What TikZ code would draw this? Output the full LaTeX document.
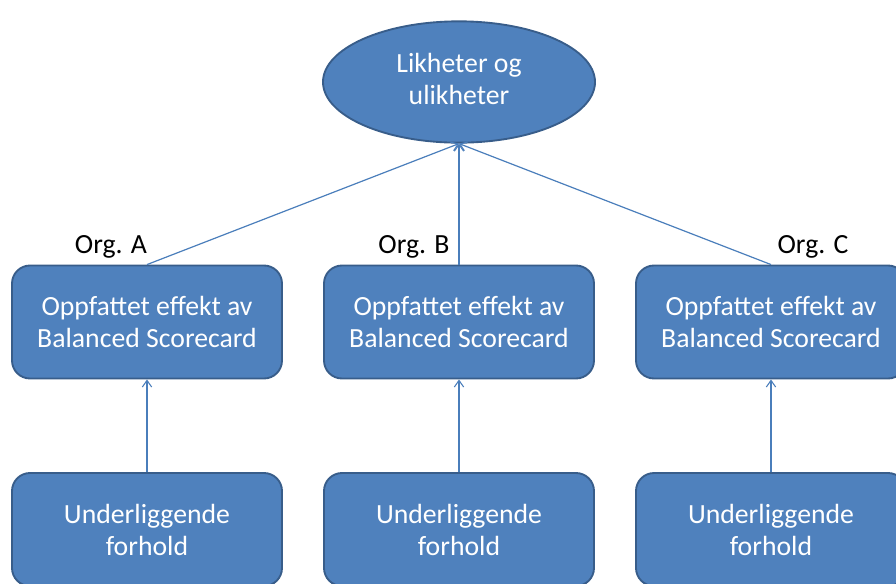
\documentclass[tikz,border=0pt]{standalone}
\usepackage{fontspec}
\setmainfont{Carlito}
\usetikzlibrary{shapes.geometric,arrows.meta}
\definecolor{boxfill}{HTML}{4F81BD}
\definecolor{boxline}{HTML}{385D8A}
\definecolor{linkline}{HTML}{4A7EBB}
\tikzset{
  px/.style={x=0.75pt,y=-0.75pt},
  bigtext/.style={font=\fontsize{20.8pt}{24pt}\selectfont},
  card/.style={draw=boxline,fill=boxfill,line width=1.4pt,rounded corners=13.5pt,
    minimum width=202.5pt,minimum height=84.75pt,align=center,text=white,
    bigtext,inner sep=0pt},
  hub/.style={ellipse,draw=boxline,fill=boxfill,line width=1.4pt,
    minimum width=204pt,minimum height=91pt},
  orglabel/.style={anchor=base,text=black,bigtext,inner sep=0pt},
  link/.style={draw=linkline,line width=0.9pt,-{Straight Barb[length=5pt,width=7pt,line width=0.8pt]}}
}
\begin{document}
\begin{tikzpicture}[px]
  \useasboundingbox (0,0) rectangle (896,583);
  \clip (0,0) rectangle (896,583);
  \fill[white] (0,0) rectangle (896,583);

  % summary ellipse with its caption set slightly above centre
  \node[hub] (top) at (459,82) {};
  \node[align=center,text=white,bigtext,inner sep=0pt] (toptext) at (459,79) {Likheter og\\ulikheter};

  % perceived effect per organisation
  \node[card] (effA) at (147,322) {Oppfattet effekt av\\Balanced Scorecard};
  \node[card] (effB) at (459,322) {Oppfattet effekt av\\Balanced Scorecard};
  \node[card] (effC) at (771,322) {Oppfattet effekt av\\Balanced Scorecard};

  % underlying conditions
  \node[card] (condA) at (147,529.5) {Underliggende\\forhold};
  \node[card] (condB) at (459,529.5) {Underliggende\\forhold};
  \node[card] (condC) at (771,529.5) {Underliggende\\forhold};

  % organisation labels
  \node[orglabel] (orgA) at (111,253) {Org. A};
  \node[orglabel] (orgB) at (414,253) {Org. B};
  \node[orglabel] (orgC) at (813,253) {Org. C};

  % connectors
  \draw[link] (effA.north) -- (top.south);
  \draw[link] (effB.north) -- (top.south);
  \draw[link] (effC.north) -- (top.south);
  \draw[link] (condA.north) -- (effA.south);
  \draw[link] (condB.north) -- (effB.south);
  \draw[link] (condC.north) -- (effC.south);
\end{tikzpicture}
\end{document}
